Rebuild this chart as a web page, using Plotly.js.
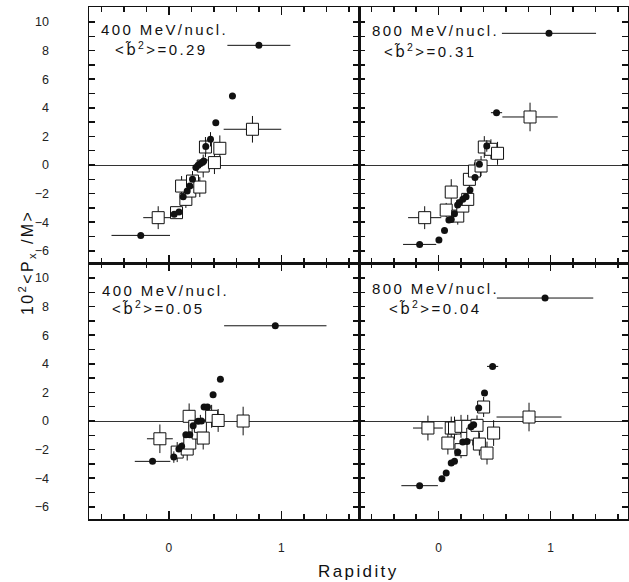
<!DOCTYPE html>
<html>
<head>
<meta charset="utf-8">
<script src="https://cdn.plot.ly/plotly-3.0.1.min.js"></script>
<style>
html,body{margin:0;padding:0;background:#fff;}
#chart{width:629px;height:582px;}
.annotation-text{letter-spacing:2.4px;}
</style>
</head>
<body>
<div id="chart"></div>
<script>
// ---- Data ----
// Top-left: 400 MeV/nucl., <b~^2>=0.29
const tlDotX = [-0.25, 0.047, 0.09, 0.127, 0.163, 0.186, 0.21, 0.24, 0.26, 0.28, 0.30, 0.31, 0.328, 0.37, 0.417, 0.565, 0.80];
const tlDotY = [-4.92, -3.45, -3.28, -2.21, -1.82, -1.47, -1.0, -0.18, -0.02, 0.1, 0.2, 0.28, 1.29, 1.80, 2.96, 4.83, 8.37];
const tlDotXerr = [0.26, 0, 0, 0, 0, 0, 0, 0, 0, 0, 0, 0, 0, 0, 0, 0.03, 0.28];
const tlDotYerr = [0, 0, 0, 0, 0, 0, 0, 0, 0, 0, 0, 0, 0.5, 0.5, 0, 0.2, 0];
const tlSqX = [-0.095, 0.068, 0.151, 0.186, 0.113, 0.21, 0.275, 0.305, 0.325, 0.405, 0.453, 0.743];
const tlSqY = [-3.68, -3.33, -2.4, -1.82, -1.47, -1.12, -1.54, -0.07, 1.26, 0.17, 1.17, 2.50];
const tlSqXerr = [0.133, 0, 0, 0, 0, 0, 0, 0, 0, 0, 0, 0.256];
const tlSqYerr = [0.8, 0.4, 0.6, 0.6, 0.7, 0.7, 0.7, 0.8, 0.7, 0.8, 0.9, 0.93];

// Top-right: 800 MeV/nucl., <b~^2>=0.31
const trDotX = [-0.169, 0.003, 0.053, 0.092, 0.113, 0.142, 0.17, 0.186, 0.216, 0.245, 0.28, 0.325, 0.364, 0.43, 0.517, 0.985];
const trDotY = [-5.55, -5.24, -4.57, -3.85, -3.8, -3.4, -2.8, -2.63, -2.4, -2.21, -1.75, -0.88, 0.05, 1.33, 3.66, 9.21];
const trDotXerr = [0.148, 0, 0, 0, 0, 0, 0, 0, 0, 0, 0, 0, 0, 0, 0.05, 0.42];
const trDotYerr = [0, 0, 0, 0, 0, 0, 0, 0, 0, 0, 0, 0, 0, 0.4, 0, 0];
const trSqX = [-0.124, 0.068, 0.113, 0.171, 0.216, 0.26, 0.275, 0.32, 0.379, 0.408, 0.467, 0.526, 0.816];
const trSqY = [-3.68, -3.15, -1.89, -3.57, -2.87, -2.4, -1.0, -0.42, -0.07, 1.26, 1.1, 0.82, 3.36];
const trSqXerr = [0.148, 0, 0, 0, 0, 0, 0, 0, 0, 0, 0, 0, 0.247];
const trSqYerr = [0.8, 0.5, 0.9, 0.6, 0.5, 0.5, 0.6, 0.6, 0.7, 0.76, 0.7, 0.8, 1.0];

// Bottom-left: 400 MeV/nucl., <b~^2>=0.05
const blDotX = [-0.145, 0.044, 0.089, 0.113, 0.151, 0.186, 0.216, 0.26, 0.29, 0.313, 0.343, 0.393, 0.458, 0.946];
const blDotY = [-2.82, -2.52, -1.96, -1.77, -0.96, -0.96, -0.33, -0.02, 0.0, 0.98, 0.98, 1.84, 2.93, 6.66];
const blDotXerr = [0.158, 0, 0, 0, 0, 0, 0, 0, 0, 0, 0, 0, 0, 0.455];
const blDotYerr = [0, 0.4, 0, 0, 0, 0, 0, 0, 0, 0, 0, 0, 0.2, 0.2];
const blSqX = [-0.08, 0.074, 0.163, 0.186, 0.18, 0.23, 0.26, 0.28, 0.305, 0.38, 0.438, 0.66];
const blSqY = [-1.24, -2.17, -1.96, -1.54, 0.33, -0.37, -0.84, -0.37, -1.19, 0.33, 0.04, 0.0];
const blSqXerr = [0.115, 0, 0, 0, 0, 0, 0, 0, 0, 0, 0, 0];
const blSqYerr = [1.0, 0.7, 0.8, 0.8, 0.9, 0.8, 0.8, 0.8, 0.8, 0.8, 0.8, 1.0];

// Bottom-right: 800 MeV/nucl., <b~^2>=0.04
const brDotX = [-0.169, 0.03, 0.068, 0.113, 0.142, 0.171, 0.216, 0.254, 0.29, 0.313, 0.358, 0.41, 0.482, 0.95];
const brDotY = [-4.52, -4.03, -3.64, -2.94, -2.82, -2.17, -1.47, -1.43, -0.4, -0.26, 0.91, 1.96, 3.82, 8.6];
const brDotXerr = [0.163, 0, 0, 0, 0, 0, 0, 0, 0, 0, 0, 0, 0.05, 0.43];
const brDotYerr = [0, 0, 0, 0, 0, 0, 0, 0, 0, 0, 0, 0, 0, 0];
const brSqX = [-0.095, 0.083, 0.113, 0.142, 0.2, 0.2, 0.26, 0.305, 0.343, 0.364, 0.402, 0.432, 0.491, 0.807];
const brSqY = [-0.49, -1.54, -0.49, -0.49, -0.37, -2.0, -0.37, -0.91, -0.3, -1.61, 0.98, -2.24, -0.84, 0.28];
const brSqXerr = [0.133, 0, 0, 0, 0, 0, 0, 0, 0, 0, 0, 0, 0, 0.29];
const brSqYerr = [0.87, 0.8, 0.8, 0.8, 0.8, 0.6, 0.8, 0.8, 0.7, 0.8, 0.7, 0.8, 0.9, 1.0];

const panelEnergy = ["400 MeV/nucl.", "800 MeV/nucl.", "400 MeV/nucl.", "800 MeV/nucl."];
const panelB2 = ["0.29", "0.31", "0.05", "0.04"];

// ---- Build ----
const FONT = "Liberation Sans, Arial, Helvetica, sans-serif";
const INK = "#111";

function errObj(arr) {
  return {type: "data", array: arr, visible: true, color: INK, thickness: 1, width: 0};
}
function dotTrace(x, y, xe, ye, xa, ya) {
  return {type: "scatter", mode: "markers", x: x, y: y, xaxis: xa, yaxis: ya,
    marker: {symbol: "circle", size: 7, color: INK},
    error_x: errObj(xe), error_y: errObj(ye), showlegend: false, hoverinfo: "skip"};
}
function sqTrace(x, y, xe, ye, xa, ya) {
  return {type: "scatter", mode: "markers", x: x, y: y, xaxis: xa, yaxis: ya,
    marker: {symbol: "square", size: 12, color: "#fff", line: {color: INK, width: 1}},
    error_x: errObj(xe), error_y: errObj(ye), showlegend: false, hoverinfo: "skip"};
}

const traces = [
  sqTrace(tlSqX, tlSqY, tlSqXerr, tlSqYerr, "x", "y"),
  dotTrace(tlDotX, tlDotY, tlDotXerr, tlDotYerr, "x", "y"),
  sqTrace(trSqX, trSqY, trSqXerr, trSqYerr, "x2", "y2"),
  dotTrace(trDotX, trDotY, trDotXerr, trDotYerr, "x2", "y2"),
  sqTrace(blSqX, blSqY, blSqXerr, blSqYerr, "x3", "y3"),
  dotTrace(blDotX, blDotY, blDotXerr, blDotYerr, "x3", "y3"),
  sqTrace(brSqX, brSqY, brSqXerr, brSqYerr, "x4", "y4"),
  dotTrace(brDotX, brDotY, brDotXerr, brDotYerr, "x4", "y4"),
];

const XR = [-0.71, 1.69];
const YR = [-6.85, 11.05];
const W = 629, H = 582, ML = 89, MR = 1, MT = 7, MB = 63;
const PW = W - ML - MR, PH = H - MT - MB;
const xSplit = 270 / PW;

function xAxis(domain, showLabels, anchor) {
  return {domain: domain, range: XR, anchor: anchor, showgrid: false, zeroline: false,
    showline: true, linecolor: INK, linewidth: 1.5, mirror: "allticks",
    tickmode: "linear", tick0: 0, dtick: 1,
    ticks: "inside", ticklen: 8, tickcolor: INK, tickwidth: 1.5,
    minor: {tickmode: "linear", tick0: 0, dtick: 0.2, ticklen: 5, ticks: "inside", tickcolor: INK, tickwidth: 1.5, showgrid: false},
    showticklabels: showLabels, ticklabelstandoff: 17,
    tickfont: {family: FONT, size: 12, color: "#222"}, fixedrange: true};
}
function yAxis(domain, showLabels, anchor) {
  return {domain: domain, range: YR, anchor: anchor, showgrid: false,
    zeroline: true, zerolinecolor: "#333", zerolinewidth: 1,
    showline: true, linecolor: INK, linewidth: 1.5, mirror: "allticks",
    tickmode: "linear", tick0: 0, dtick: 2,
    ticks: "inside", ticklen: 6, tickcolor: INK, tickwidth: 1.5,
    minor: {tickmode: "linear", tick0: 0, dtick: 1, ticklen: 6, ticks: "inside", tickcolor: INK, tickwidth: 1.5, showgrid: false},
    showticklabels: showLabels, ticklabelstandoff: 36,
    tickfont: {family: FONT, size: 12.5, color: "#222"}, fixedrange: true};
}

function px2x(px) { return (px - ML) / PW; }
function px2y(py) { return (H - MB - py) / PH; }

const labelPos = [
  // [line1 left px, line1 y px, line2 left px, line2 y px]
  [99, 29, 113, 49],
  [370, 30, 382, 51],
  [100, 290, 110, 308],
  [370, 288, 387, 308],
];
const annotations = [];
labelPos.forEach((p, i) => {
  annotations.push({xref: "paper", yref: "paper", x: px2x(p[0]), y: px2y(p[1]),
    xanchor: "left", yanchor: "middle", showarrow: false, text: panelEnergy[i],
    font: {family: FONT, size: 15, color: "#111"}});
  annotations.push({xref: "paper", yref: "paper", x: px2x(p[2]), y: px2y(p[3]),
    xanchor: "left", yanchor: "middle", showarrow: false,
    text: "&lt;<span style=\"font-family:DejaVu Sans\">b\u0303</span><sup>2</sup>&gt;=" + panelB2[i],
    font: {family: FONT, size: 15, color: "#111"}});
});
annotations.push({xref: "paper", yref: "paper", x: px2x(358), y: px2y(571),
  xanchor: "center", yanchor: "middle", showarrow: false, text: "Rapidity",
  font: {family: FONT, size: 17, color: "#111"}});
annotations.push({xref: "paper", yref: "paper", x: px2x(27), y: px2y(263),
  xanchor: "center", yanchor: "middle", showarrow: false, textangle: -90,
  text: "10<sup>2</sup>&lt;P<sub>x</sub> /M&gt;",
  font: {family: FONT, size: 16, color: "#111"}});

const layout = {
  width: W, height: H,
  margin: {l: ML, r: MR, t: MT, b: MB, pad: 0},
  paper_bgcolor: "#fff", plot_bgcolor: "#fff",
  showlegend: false,
  xaxis: xAxis([0, xSplit], false, "y"),
  yaxis: yAxis([0.5, 1], true, "x"),
  xaxis2: xAxis([xSplit, 1], false, "y2"),
  yaxis2: yAxis([0.5, 1], false, "x2"),
  xaxis3: xAxis([0, xSplit], true, "y3"),
  yaxis3: yAxis([0, 0.5], true, "x3"),
  xaxis4: xAxis([xSplit, 1], true, "y4"),
  yaxis4: yAxis([0, 0.5], false, "x4"),
  annotations: annotations
};

Plotly.newPlot("chart", traces, layout, {staticPlot: true, displayModeBar: false});
</script>
</body>
</html>
